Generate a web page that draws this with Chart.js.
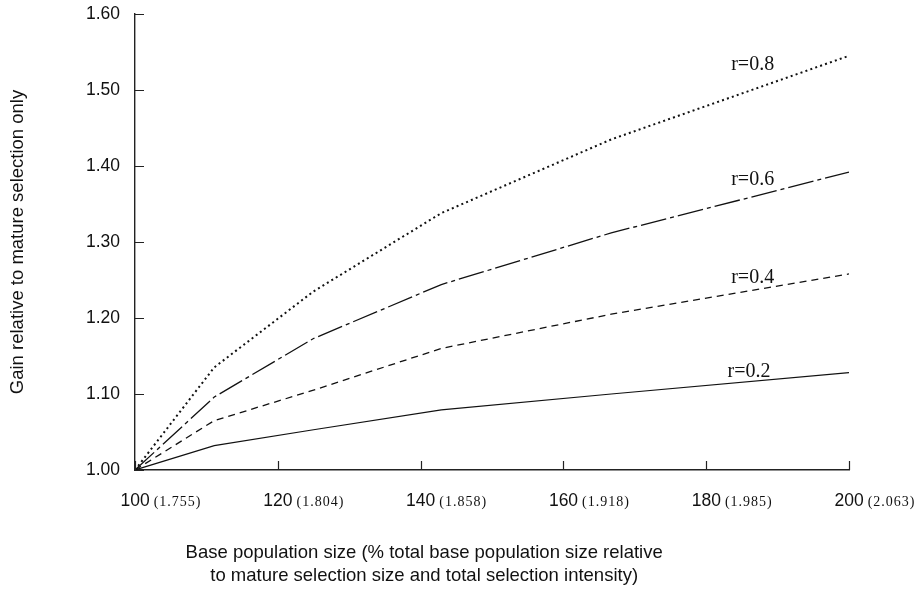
<!DOCTYPE html>
<html>
<head>
<meta charset="utf-8">
<title>Gain relative to mature selection only</title>
<script src="https://cdn.jsdelivr.net/npm/chart.js@4.4.1/dist/chart.umd.min.js"></script>
<style>
  html, body { margin: 0; padding: 0; background: #fff; }
  canvas { display: block; }
</style>
</head>
<body>
<canvas id="chart" width="919" height="594"></canvas>
<script>
// Base population size (% of mature selection size)
const popSize = [100, 111.1, 125, 142.9, 166.7, 200];

// Gain relative to mature selection only, one series per correlation r
const gainR02 = [1.000, 1.032, 1.053, 1.079, 1.100, 1.128];
const gainR04 = [1.000, 1.065, 1.105, 1.160, 1.205, 1.258];
const gainR06 = [1.000, 1.096, 1.173, 1.244, 1.312, 1.392];
const gainR08 = [1.000, 1.135, 1.235, 1.338, 1.435, 1.545];

// Axis ticks and the total selection intensity shown under each x tick
const xTicks = [100, 120, 140, 160, 180, 200];
const intensity = ['(1.755)', '(1.804)', '(1.858)', '(1.918)', '(1.985)', '(2.063)'];
const yTicks = [1.0, 1.1, 1.2, 1.3, 1.4, 1.5, 1.6];

const seriesNames = ['r=0.2', 'r=0.4', 'r=0.6', 'r=0.8'];

// In-plot curve captions, anchored in data units (left edge, baseline)
const captionAnchors = [
  { x: 183.0, y: 1.123 },
  { x: 183.5, y: 1.246 },
  { x: 183.5, y: 1.375 },
  { x: 183.5, y: 1.526 }
];

const INK = '#111';
const SANS = 'Arial, "Liberation Sans", Helvetica, sans-serif';
const SERIF = '"Times New Roman", "Liberation Serif", "DejaVu Serif", serif';

const toPoints = ys => popSize.map((x, i) => ({ x, y: ys[i] }));

const lineStyles = [
  { borderWidth: 1.2, borderDash: [] },
  { borderWidth: 1.3, borderDash: [7, 5] },
  { borderWidth: 1.3, borderDash: [26, 4, 4, 4] },
  { borderWidth: 2, borderDash: [2, 3.2] }
];

const seriesValues = [gainR02, gainR04, gainR06, gainR08];

const datasets = seriesValues.map((ys, i) => ({
  label: seriesNames[i],
  data: toPoints(ys),
  borderColor: INK,
  borderWidth: lineStyles[i].borderWidth,
  borderDash: lineStyles[i].borderDash,
  pointRadius: 0,
  pointHoverRadius: 0,
  tension: 0,
  fill: false
}));

// Inward tick marks, composite x labels, x title and curve captions
const decorations = {
  id: 'decorations',
  afterDraw(chart) {
    const { ctx, chartArea, scales: { x, y } } = chart;
    ctx.save();

    // tick marks pointing into the plot
    ctx.strokeStyle = '#222';
    ctx.lineWidth = 1.2;
    ctx.beginPath();
    yTicks.forEach(v => {
      const py = Math.round(y.getPixelForValue(v)) + 0.5;
      ctx.moveTo(chartArea.left, py);
      ctx.lineTo(chartArea.left + 9, py);
    });
    xTicks.forEach(v => {
      const px = Math.round(x.getPixelForValue(v)) + 0.5;
      ctx.moveTo(px, chartArea.bottom);
      ctx.lineTo(px, chartArea.bottom - 9);
    });
    ctx.stroke();

    // x tick labels: population size followed by selection intensity
    ctx.fillStyle = INK;
    ctx.textBaseline = 'alphabetic';
    ctx.textAlign = 'left';
    const labelBase = chartArea.bottom + 36;
    xTicks.forEach((v, i) => {
      const px = x.getPixelForValue(v);
      const num = String(v);
      ctx.font = '17.5px ' + SANS;
      ctx.letterSpacing = '0px';
      const w = ctx.measureText(num).width;
      const left = px - 14.5;
      ctx.fillText(num, left, labelBase);
      ctx.font = '14px ' + SERIF;
      ctx.letterSpacing = '1px';
      ctx.fillText(intensity[i], left + w + 4, labelBase);
    });
    ctx.letterSpacing = '0px';

    // x axis title, two centred lines
    ctx.font = '18.5px ' + SANS;
    ctx.textAlign = 'center';
    const cx = chartArea.left + (chartArea.right - chartArea.left) * 0.405;
    ctx.fillText('Base population size (% total base population size relative', cx, chartArea.bottom + 88);
    ctx.fillText('to mature selection size and total selection intensity)', cx, chartArea.bottom + 111);

    // curve captions
    ctx.font = '20px ' + SERIF;
    ctx.textAlign = 'left';
    captionAnchors.forEach((a, i) => {
      ctx.fillText(seriesNames[i], x.getPixelForValue(a.x), y.getPixelForValue(a.y));
    });

    ctx.restore();
  }
};

new Chart(document.getElementById('chart'), {
  type: 'line',
  data: { datasets },
  options: {
    responsive: false,
    devicePixelRatio: 1,
    animation: false,
    layout: { padding: { top: 14, right: 70, left: 0, bottom: 0 } },
    plugins: {
      legend: { display: false },
      tooltip: { enabled: false }
    },
    scales: {
      x: {
        type: 'linear',
        min: xTicks[0],
        max: xTicks[xTicks.length - 1],
        afterBuildTicks: s => { s.ticks = xTicks.map(v => ({ value: v })); },
        afterFit: s => { s.height = 124; s.paddingLeft = 0; s.paddingRight = 0; },
        grid: { display: false, drawTicks: false },
        border: { display: true, color: '#222', width: 1.4 },
        ticks: { display: false }
      },
      y: {
        type: 'linear',
        min: yTicks[0],
        max: yTicks[yTicks.length - 1],
        afterBuildTicks: s => { s.ticks = yTicks.map(v => ({ value: v })); },
        afterFit: s => { s.width = 135; s.paddingTop = 0; s.paddingBottom = 0; },
        grid: { display: false, drawTicks: false },
        border: { display: true, color: '#222', width: 1.4 },
        ticks: {
          padding: 15,
          color: INK,
          font: { family: SANS, size: 17.5 },
          callback: v => Number(v).toFixed(2)
        },
        title: {
          display: true,
          text: 'Gain relative to mature selection only',
          color: INK,
          font: { family: SANS, size: 18.5 },
          padding: { top: 7, bottom: 0 }
        }
      }
    }
  },
  plugins: [decorations]
});
</script>
</body>
</html>
